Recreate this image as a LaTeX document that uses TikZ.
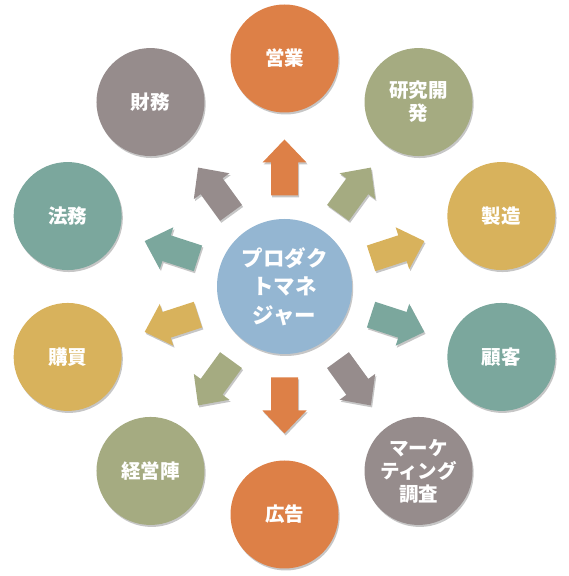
\documentclass[tikz,border=0pt]{standalone}
\usepackage{fontspec}
\newfontfamily\jp{Noto Sans CJK JP}
\usetikzlibrary{shadows}
\definecolor{cblue}{HTML}{94B6D2}
\definecolor{corange}{HTML}{DD8047}
\definecolor{colive}{HTML}{A5AB81}
\definecolor{cgold}{HTML}{D8B25C}
\definecolor{cteal}{HTML}{7BA79D}
\definecolor{ctaupe}{HTML}{968C8C}
\begin{document}
\begin{tikzpicture}[x=1pt,y=1pt,
  softshadow/.style={drop shadow={shadow xshift=1.2pt,shadow yshift=-2pt,opacity=0.28,fill=black!80}},
  outer/.style={circle,minimum size=108pt,inner sep=0pt,softshadow,text=white,align=center,
    font=\jp\bfseries\fontsize{19.5}{23}\selectfont},
  hub/.style={circle,minimum size=135pt,inner sep=0pt,fill=cblue,softshadow,text=white,align=center,
    font=\jp\bfseries\fontsize{21.5}{28.5}\selectfont},
  blockarrow/.style={softshadow}]
\useasboundingbox (0,0) rectangle (569,576);
\coordinate (C) at (284.5,289.5);
\node[hub] (pm) at (C) {プロダク\\トマネ\\ジャー};
\foreach \nm/\ang/\col/\txt in {
  eigyo/90/corange/{営業},
  kenkyu/54/colive/{研究開\\発},
  seizo/18/cgold/{製造},
  kokyaku/-18/cteal/{顧客},
  market/-54/ctaupe/{マーケ\\ティング\\調査},
  kokoku/-90/corange/{広告},
  keiei/-126/colive/{経営陣},
  kobai/198/cgold/{購買},
  homu/162/cteal/{法務},
  zaimu/126/ctaupe/{財務}}{
  \node[outer,fill=\col] (\nm) at ([shift={(\ang:228)}]C) {\txt};
  \fill[blockarrow,\col,shift={(C)},rotate=\ang]
    (91,-13.5) -- (124,-13.5) -- (124,-22) -- (147,0) -- (124,22) -- (124,13.5) -- (91,13.5) -- cycle;
}
\end{tikzpicture}
\end{document}
